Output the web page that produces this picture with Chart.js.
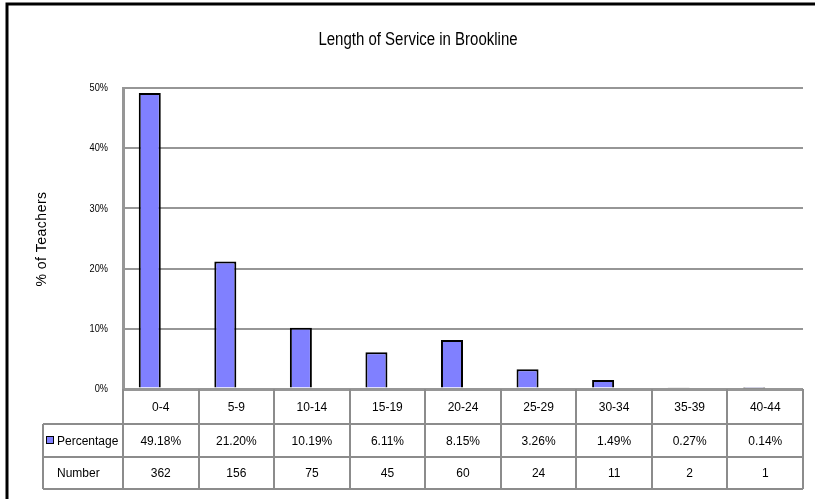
<!DOCTYPE html>
<html>
<head>
<meta charset="utf-8">
<title>Length of Service in Brookline</title>
<script src="https://cdn.jsdelivr.net/npm/chart.js@4.4.1/dist/chart.umd.min.js"></script>
<style>
  html, body { margin: 0; padding: 0; background: #fff; }
  canvas { display: block; }
</style>
</head>
<body>
<canvas id="serviceChart" width="815" height="499"></canvas>
<script>
const categories = ['0-4', '5-9', '10-14', '15-19', '20-24', '25-29', '30-34', '35-39', '40-44'];
const percentages = [49.18, 21.20, 10.19, 6.11, 8.15, 3.26, 1.49, 0.27, 0.14];  // % of teachers
const numbers = [362, 156, 75, 45, 60, 24, 11, 2, 1];                        // teacher counts
const yTicks = [0, 10, 20, 30, 40, 50];

const BAR_BLUE = '#8080ff';
const GRID_GREY = '#969696';
const TABLE_GREY = '#8c8c8c';
const SANS = '"Liberation Sans", Arial, sans-serif';

// text squeezed sideways, like an Arial Narrow face
function narrowText(ctx, text, x, y, size, align, squeeze) {
    ctx.save();
    ctx.translate(x, y);
    ctx.scale(squeeze, 1);
    ctx.font = size + 'px ' + SANS;
    ctx.textAlign = align;
    ctx.fillText(text, 0, 0);
    ctx.restore();
}

// Title, axis labels, outer frame and the data table under the plot
const decorations = {
    id: 'decorations',
    afterDraw(chart) {
        const ctx = chart.ctx;
        const area = chart.chartArea;
        const x = chart.scales.x;
        const y = chart.scales.y;
        const colW = (x.right - x.left) / categories.length;

        ctx.save();

        // outer frame
        ctx.strokeStyle = '#000';
        ctx.lineWidth = 3;
        ctx.beginPath();
        ctx.moveTo(7, 499);
        ctx.lineTo(7, 4);
        ctx.lineTo(815, 4);
        ctx.stroke();

        ctx.fillStyle = '#000';

        // title
        ctx.textBaseline = 'alphabetic';
        narrowText(ctx, 'Length of Service in Brookline', 418, 45, 18, 'center', 0.833);

        // y tick labels
        ctx.textBaseline = 'middle';
        yTicks.forEach(v => {
            narrowText(ctx, v + '%', area.left - 15, y.getPixelForValue(v), 11.5, 'right', 0.8);
        });

        // y axis title
        ctx.save();
        ctx.translate(42, 239);
        ctx.rotate(-Math.PI / 2);
        ctx.font = '14px ' + SANS;
        ctx.letterSpacing = '0.5px';
        ctx.textAlign = 'center';
        ctx.fillText('% of Teachers', 0, 0);
        ctx.restore();

        // data table
        const top = area.bottom;
        const rows = [top, 424, 457, 489];
        const keyLeft = 43;

        ctx.strokeStyle = TABLE_GREY;
        ctx.lineWidth = 2;
        ctx.beginPath();
        for (let i = 0; i <= categories.length; i++) {
            const cx = Math.round(x.left + i * colW);
            ctx.moveTo(cx, top);
            ctx.lineTo(cx, rows[3]);
        }
        ctx.moveTo(keyLeft, rows[1]);
        ctx.lineTo(keyLeft, rows[3]);
        for (let r = 1; r < rows.length; r++) {
            ctx.moveTo(keyLeft, rows[r]);
            ctx.lineTo(x.right, rows[r]);
        }
        ctx.stroke();

        ctx.font = '12px ' + SANS;
        ctx.fillStyle = '#000';
        ctx.textAlign = 'center';
        categories.forEach((cat, i) => {
            const cx = x.left + (i + 0.5) * colW;
            ctx.fillText(cat, cx, (rows[0] + rows[1]) / 2 + 1);
            ctx.fillText(percentages[i].toFixed(2) + '%', cx, (rows[1] + rows[2]) / 2 + 1);
            ctx.fillText(String(numbers[i]), cx, (rows[2] + rows[3]) / 2 + 1);
        });

        // legend key + row names
        ctx.fillStyle = BAR_BLUE;
        ctx.fillRect(47, 437, 6, 6);
        ctx.strokeStyle = '#000';
        ctx.lineWidth = 1;
        ctx.strokeRect(46.5, 436.5, 7, 7);
        ctx.fillStyle = '#000';
        ctx.textAlign = 'left';
        ctx.fillText('Percentage', 57, (rows[1] + rows[2]) / 2 + 1);
        ctx.fillText('Number', 57, (rows[2] + rows[3]) / 2 + 1);

        ctx.restore();
    }
};

const ctx = document.getElementById('serviceChart').getContext('2d');
new Chart(ctx, {
    type: 'bar',
    data: {
        labels: categories,
        datasets: [{
            label: 'Percentage',
            data: percentages,
            backgroundColor: BAR_BLUE,
            borderColor: '#000',
            borderWidth: 2,
            yAxisID: 'y'
        }, {
            // counts sit beside the percentages with no fill
            label: 'Number',
            data: numbers,
            backgroundColor: 'rgba(0,0,0,0)',
            borderWidth: 0,
            yAxisID: 'y2'
        }]
    },
    options: {
        responsive: false,
        devicePixelRatio: 1,
        animation: false,
        layout: { padding: { top: 88, right: 12, bottom: 110, left: 0 } },
        datasets: { bar: { categoryPercentage: 0.583, barPercentage: 1 } },
        plugins: {
            legend: { display: false },
            tooltip: { enabled: false }
        },
        scales: {
            x: { display: false },
            y: {
                min: yTicks[0],
                max: yTicks[yTicks.length - 1],
                afterFit(scale) { scale.width = 123; },
                afterBuildTicks(scale) { scale.ticks = yTicks.map(v => ({ value: v })); },
                border: { display: true, color: GRID_GREY, width: 3 },
                grid: {
                    drawTicks: false,
                    color: GRID_GREY,
                    lineWidth: c => (c.tick && c.tick.value === 0 ? 3 : 2)
                },
                ticks: { display: false }
            },
            y2: { display: false, min: 0, max: 736 }
        }
    },
    plugins: [decorations]
});
</script>
</body>
</html>
